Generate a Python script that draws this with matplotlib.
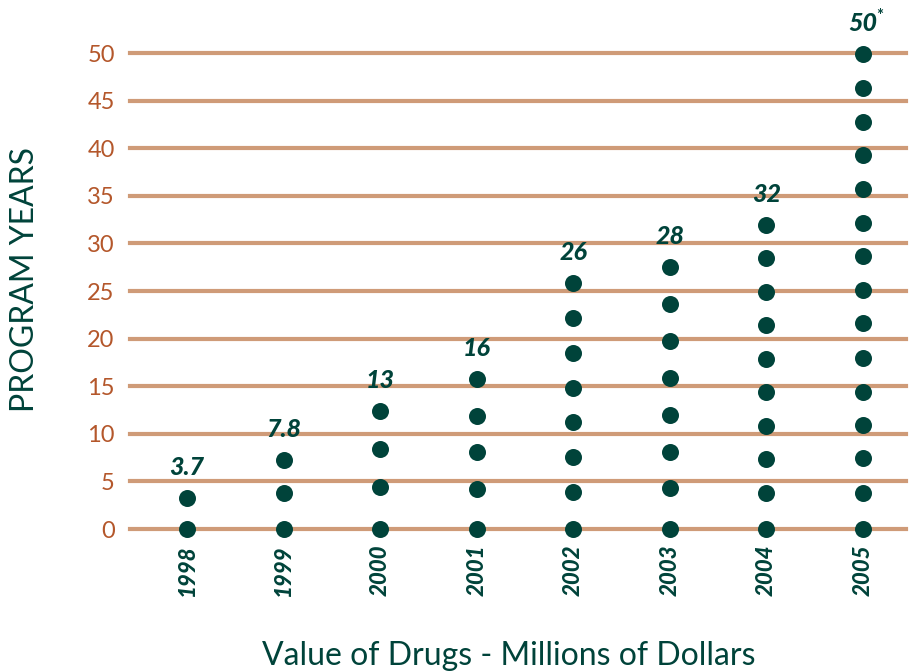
import matplotlib.pyplot as plt

# Data
years = ["1998", "1999", "2000", "2001", "2002", "2003", "2004", "2005"]
values = ["3.7", "7.8", "13", "16", "26", "28", "32", "50"]
footnote = ["", "", "", "", "", "", "", "*"]

# program-year dots stacked above each year
dots_1998 = [0, 3.3]
dots_1999 = [0, 3.8, 7.2]
dots_2000 = [0, 4.4, 8.4, 12.4]
dots_2001 = [0, 4.2, 8.1, 11.9, 15.8]
dots_2002 = [0, 3.9, 7.6, 11.2, 14.8, 18.5, 22.2, 25.8]
dots_2003 = [0, 4.3, 8.1, 12.0, 15.9, 19.7, 23.6, 27.5]
dots_2004 = [0, 3.8, 7.4, 10.8, 14.4, 17.9, 21.4, 24.9, 28.5, 31.9]
dots_2005 = [0, 3.8, 7.5, 10.9, 14.4, 18.0, 21.6, 25.1, 28.7, 32.1,
             35.7, 39.3, 42.8, 46.3, 49.9]
dots = [dots_1998, dots_1999, dots_2000, dots_2001,
        dots_2002, dots_2003, dots_2004, dots_2005]

yticks = [0, 5, 10, 15, 20, 25, 30, 35, 40, 45, 50]

green = "#00433a"
orange = "#b4572b"
tan = "#cf9b78"
font = "Lato"

W, H = 911, 671
fig = plt.figure(figsize=(W / 100, H / 100), dpi=100)
# axes placed so that y=0 and y=50 land on the reference gridlines
ax = fig.add_axes([130 / W, (H - 529) / H, (906 - 130) / W, (529 - 53) / H])
ax.set_xlim(-0.59, 7.445)
ax.set_ylim(0, 50)

for t in yticks:
    ax.axhline(t, color=tan, lw=3, zorder=1, clip_on=False)

for i, ys in enumerate(dots):
    ax.scatter([i] * len(ys), ys, s=150, color=green, zorder=3,
               linewidths=0, clip_on=False)
    ax.annotate(values[i], (i, max(ys)), xytext=(0, 22), textcoords="offset points",
                ha="center", va="center", fontsize=18, fontweight="black",
                fontstyle="italic", color=green, family=font, annotation_clip=False)
    if footnote[i]:
        ax.annotate(footnote[i], (i, max(ys)), xytext=(12, 27), textcoords="offset points",
                    ha="center", va="center", fontsize=12, fontweight="bold",
                    color=green, family=font, annotation_clip=False)

for s in ax.spines.values():
    s.set_visible(False)

ax.set_yticks(yticks)
ax.set_yticklabels([str(t) for t in yticks], color=orange, fontsize=17, family=font)
ax.set_xticks(range(len(years)))
ax.set_xticklabels(years, rotation=90, color=green, fontsize=16,
                   fontweight="black", fontstyle="italic", family=font)
ax.tick_params(axis="y", length=0, pad=11)
ax.tick_params(axis="x", length=0, pad=11)

fig.text(25 / W, 1 - 280 / H, "PROGRAM YEARS", rotation=90, ha="center",
         va="center", color=green, fontsize=23, family=font)
fig.text(509 / W, 1 - 656 / H, "Value of Drugs - Millions of Dollars", ha="center",
         va="center", color=green, fontsize=23, family=font)

fig.savefig("out.png", dpi=100)
